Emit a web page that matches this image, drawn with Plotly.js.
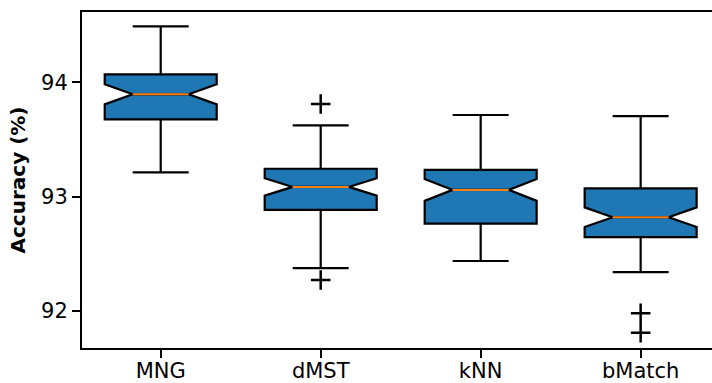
<!DOCTYPE html>
<html>
<head>
<meta charset="utf-8">
<script src="https://cdn.plot.ly/plotly-3.0.1.min.js"></script>
<style>html,body{margin:0;padding:0;background:#fff;overflow:hidden}</style>
</head>
<body>
<div id="chart" style="width:712px;height:383px"></div>
<script>
const categories = ["MNG", "dMST", "kNN", "bMatch"];
const lowerWhisker = [93.213, 92.374, 92.437, 92.339];
const q1 = [93.676, 92.884, 92.764, 92.645];
const median = [93.895, 93.085, 93.059, 92.820];
const q3 = [94.070, 93.244, 93.234, 93.073];
const upperWhisker = [94.490, 93.624, 93.714, 93.705];
const notchHalfSpan = [0.088, 0.076, 0.096, 0.086];
const outlierGroup = [1, 1, 3, 3];
const outlierValues = [93.810, 92.271, 91.980, 91.810];
const yTicks = [92, 93, 94];

const pos = categories.map((c, i) => i);
const BOXW = 0.7, NOTCHW = 0.25;

const boxTrace = {
  type: 'box',
  x: pos,
  q1: q1, median: median, q3: q3,
  lowerfence: lowerWhisker, upperfence: upperWhisker,
  notched: true, notchspan: notchHalfSpan, notchwidth: NOTCHW,
  width: BOXW, whiskerwidth: 0.5,
  boxpoints: false,
  fillcolor: '#1f77b4',
  line: {color: '#000', width: 2.2},
  hoverinfo: 'skip', showlegend: false
};

const mx = [], my = [];
pos.forEach((p, i) => {
  const h = BOXW / 2 * (1 - 2 * NOTCHW);
  mx.push(p - h, p + h, null);
  my.push(median[i], median[i], null);
});
const medianTrace = {
  type: 'scatter', mode: 'lines', x: mx, y: my,
  line: {color: '#ff7f0e', width: 2}, hoverinfo: 'skip', showlegend: false
};

const outlierTrace = {
  type: 'scatter', mode: 'markers',
  x: outlierGroup, y: outlierValues,
  marker: {symbol: 'cross-thin', size: 14, color: '#000', line: {color: '#000', width: 2.5}},
  hoverinfo: 'skip', showlegend: false
};

const font = {family: 'DejaVu Sans, sans-serif', size: 21, color: '#000'};
const layout = {
  width: 712, height: 383,
  margin: {l: 82, r: 0, t: 12, b: 35, pad: 0},
  paper_bgcolor: '#fff', plot_bgcolor: '#fff',
  font: font,
  showlegend: false,
  xaxis: {
    range: [-0.492, 3.446], tickvals: pos, ticktext: categories,
    showgrid: false, zeroline: false,
    showline: true, mirror: true, linecolor: '#000', linewidth: 2,
    ticks: 'outside', ticklen: 8, tickwidth: 2, tickcolor: '#000',
    ticklabelstandoff: -5,
    tickfont: font
  },
  yaxis: {
    range: [91.676, 94.615], tickvals: yTicks, ticktext: yTicks.map(String),
    showgrid: false, zeroline: false,
    showline: true, mirror: false, linecolor: '#000', linewidth: 2,
    ticks: 'outside', ticklen: 8, tickwidth: 2, tickcolor: '#000',
    tickfont: font,
    title: {text: 'Accuracy (%)', font: {family: 'DejaVu Sans, sans-serif', size: 20, color: '#000', weight: 700}, standoff: 10}
  }
};

Plotly.newPlot('chart', [boxTrace, medianTrace, outlierTrace], layout, {displayModeBar: false, staticPlot: true});
</script>
</body>
</html>
